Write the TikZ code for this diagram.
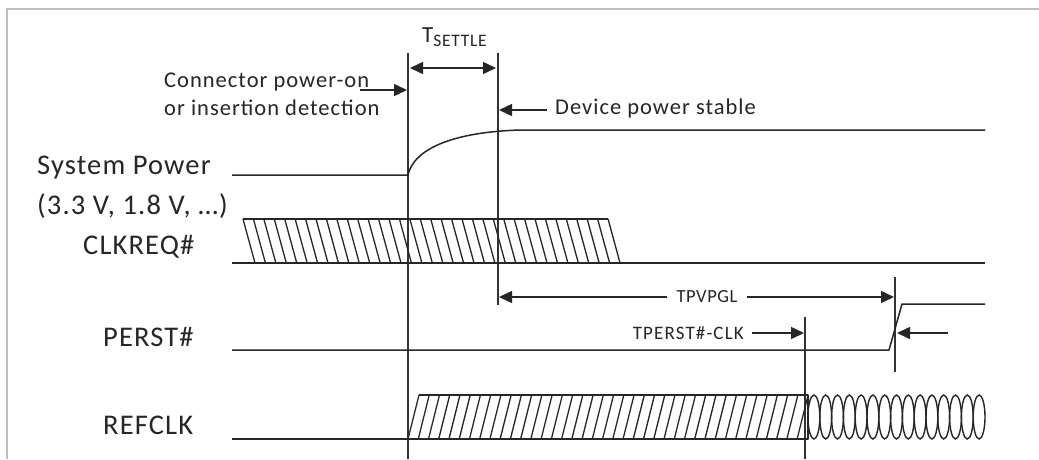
\documentclass[tikz,border=0pt]{standalone}
\usepackage{fontspec}
\setmainfont{Carlito}
\usetikzlibrary{arrows.meta}
\begin{document}
\begin{tikzpicture}[x=1pt,y=-1pt,
  sig/.style={line width=1.5pt,draw=black!85,line join=round},
  guide/.style={line width=1.4pt,draw=black!80},
  arr/.style={line width=1.5pt,draw=black!85,-{Triangle[length=13pt,width=12pt]}},
  darr/.style={line width=1.5pt,draw=black!85,{Triangle[length=13pt,width=12pt]}-{Triangle[length=13pt,width=12pt]}},
  big/.style={font=\fontsize{28.5}{33}\selectfont\addfontfeature{LetterSpace=4},text=black!85,inner sep=0pt},
  mid/.style={font=\fontsize{22.5}{28}\selectfont\addfontfeature{LetterSpace=4.5},text=black!85,inner sep=0pt},
  small/.style={font=\fontsize{18.5}{22}\selectfont\addfontfeature{LetterSpace=3},text=black!85,inner sep=0pt},
  smallwide/.style={font=\fontsize{19}{22}\selectfont\addfontfeature{LetterSpace=6},text=black!85,inner sep=0pt},
  frame/.style={line width=1.5pt,draw=black!25}]
\useasboundingbox (0,0) rectangle (1039,459);
\fill[white] (0,0) rectangle (1039,459);
% frame
\coordinate (fa) at (7,459);
\coordinate (fb) at (7,9);
\coordinate (fc) at (1039,9);
\draw[frame] (fa) -- (fb) -- (fc);
% guide lines
\coordinate (v1t) at (408,53); \coordinate (v1b) at (408,459);
\coordinate (v2t) at (498,53); \coordinate (v2b) at (498,305);
\coordinate (v3t) at (805,317); \coordinate (v3b) at (805,459);
\coordinate (v4t) at (895,277); \coordinate (v4b) at (895,372);
\draw[guide] (v1t) -- (v1b);
\draw[guide] (v2t) -- (v2b);
\draw[guide] (v3t) -- (v3b);
\draw[guide] (v4t) -- (v4b);
% labels left
\node[big,anchor=west] (sp) at (37,168) {System Power};
\node[big,anchor=west] (spv) at (37,206) {(3.3 V, 1.8 V, …)};
\node[big,anchor=west] (clk) at (83,247) {CLKREQ\#};
\node[big,anchor=west] (per) at (103,337) {PERST\#};
\node[big,anchor=west] (ref) at (103,425) {REFCLK};
% System power
\coordinate (sp0) at (232,175);
\coordinate (sp1) at (408,175);
\coordinate (sp2) at (520,130);
\coordinate (sp3) at (985,130);
\draw[sig] (sp0) -- (sp1) .. controls (414,148) and (455,132) .. (sp2) -- (sp3);
% CLKREQ#
\coordinate (ck0) at (232,263);
\coordinate (ck1) at (985,263);
\coordinate (ckt0) at (243,219);
\coordinate (ckt1) at (608,219);
\draw[sig] (ck0) -- (ck1);
\draw[sig] (ckt0) -- (ckt1);
\foreach \i in {0,...,35} {
  \draw[line width=1.3pt,draw=black!85] (243+\i*10.43,219) -- ++(12,44);
}
% PERST#
\coordinate (pr0) at (232,350);
\coordinate (pr1) at (889,350);
\coordinate (pr2) at (902,304);
\coordinate (pr3) at (985,304);
\draw[sig] (pr0) -- (pr1) -- (pr2) -- (pr3);
% REFCLK
\coordinate (rf0) at (232,439);
\coordinate (rf1) at (808,439);
\coordinate (rft0) at (419,395);
\coordinate (rft1) at (808,395);
\draw[sig] (rf0) -- (rf1) -- (rft1) -- (rft0);
\foreach \i in {0,...,38} {
  \draw[line width=1.3pt,draw=black!85] (408+\i*10.24,439) -- ++(11,-44);
}
\foreach \i in {0,...,14} {
  \draw[line width=1.4pt,draw=black!85] (813.9+\i*11.8,417) ellipse [x radius=5.9,y radius=22];
}
% TSETTLE
\node[anchor=west,inner sep=0pt,text=black!85] (ts) at (422,37) {\fontsize{23}{23}\selectfont T\raisebox{-0.35ex}{\fontsize{17.5}{17}\selectfont\addfontfeature{LetterSpace=4}SETTLE}};
\coordinate (tsa) at (410,68);
\coordinate (tsb) at (496,68);
\draw[darr] (tsa) -- (tsb);
% connector power-on
\node[mid,anchor=west,align=left] (cpo) at (164,94) {Connector power-on\\or insertion detection};
\coordinate (cpa) at (360,90);
\coordinate (cpb) at (407,90);
\draw[arr] (cpa) -- (cpb);
% device power stable
\node[mid,anchor=west] (dps) at (555,108) {Device power stable};
\coordinate (dpa) at (547,110);
\coordinate (dpb) at (499,110);
\draw[arr] (dpa) -- (dpb);
% TPVPGL
\node[small,inner xsep=9pt] (tpv) at (707,297) {TPVPGL};
\coordinate (tpl) at (499,297);
\coordinate (tpr) at (894,297);
\draw[arr] (tpv.west) -- (tpl);
\draw[arr] (tpv.east) -- (tpr);
% TPERST#-CLK
\node[smallwide,anchor=east] (tpc) at (744,333) {TPERST\#-CLK};
\coordinate (tca) at (752,333);
\coordinate (tcb) at (804,333);
\draw[arr] (tca) -- (tcb);
% right arrow
\coordinate (raa) at (948,333);
\coordinate (rab) at (897,333);
\draw[arr] (raa) -- (rab);
\end{tikzpicture}
\end{document}
